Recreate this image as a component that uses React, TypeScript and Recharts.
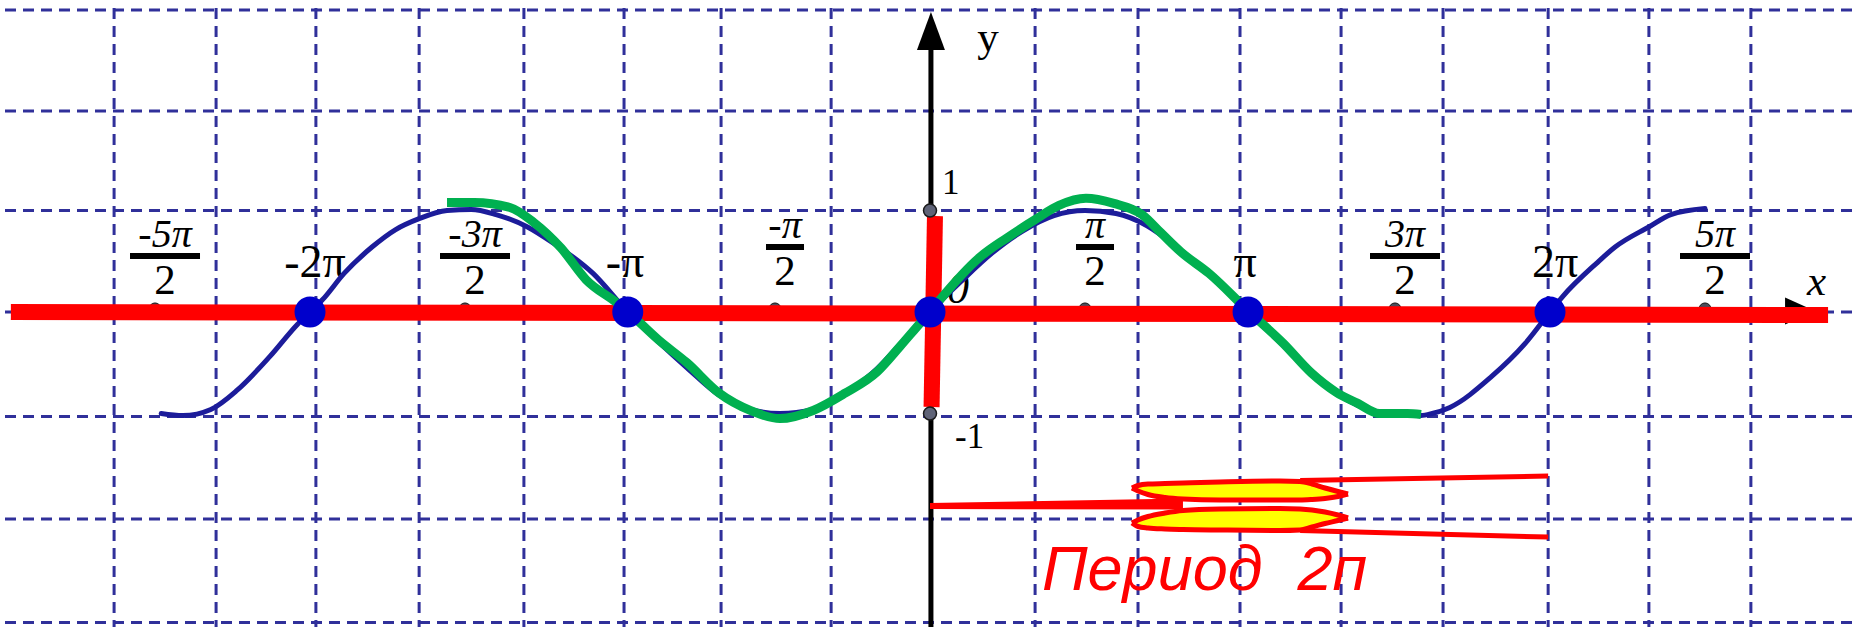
import React from 'react';
import { ComposedChart, XAxis, YAxis, CartesianGrid, Line, Area, Scatter } from 'recharts';

// x values are in multiples of π, y values in units
const gridT = [-2.974, -2.632, -2.303, -1.981, -1.648, -1.31, -0.987, -0.674, -0.319, 0.339, 0.671, 1.0, 1.326, 1.655, 1.994, 2.319, 2.648];
const gridV = [2.975, 1.98, 1.0, 0, -1.03, -2.04, -3.06];

const blueT = [-2.48, -2.41, -2.32, -2.235, -2.13, -2.04, -2.0, -1.96, -1.89, -1.8, -1.725, -1.648, -1.558, -1.48, -1.4, -1.3, -1.216, -1.087, -0.975, -0.874, -0.784, -0.68, -0.58, -0.484, -0.377, -0.274, -0.171, -0.097, 0, 0.1, 0.2, 0.3, 0.4, 0.5, 0.6, 0.7, 0.8, 0.9, 1.026, 1.14, 1.23, 1.31, 1.38, 1.45, 1.54, 1.584, 1.62, 1.677, 1.81, 1.92, 2.0, 2.04, 2.15, 2.21, 2.32, 2.39, 2.5];
const blueV = [-1.0, -1.02, -0.96, -0.77, -0.44, -0.12, 0, 0.12, 0.38, 0.64, 0.81, 0.92, 1.0, 1.01, 0.96, 0.84, 0.68, 0.38, 0, -0.3, -0.55, -0.82, -0.96, -1.0, -0.96, -0.8, -0.56, -0.32, 0, 0.3, 0.58, 0.8, 0.95, 1.0, 0.97, 0.85, 0.63, 0.37, 0, -0.33, -0.6, -0.8, -0.92, -0.99, -1.01, -1.02, -1.0, -0.94, -0.64, -0.31, 0, 0.15, 0.48, 0.64, 0.84, 0.96, 1.02];

const greenT = [-1.558, -1.47, -1.355, -1.277, -1.19, -1.11, -1.01, -0.974, -0.874, -0.784, -0.68, -0.58, -0.484, -0.377, -0.274, -0.171, -0.097, -0.032, 0, 0.032, 0.161, 0.248, 0.339, 0.416, 0.503, 0.593, 0.684, 0.745, 0.81, 0.9, 1.03, 1.14, 1.23, 1.31, 1.38, 1.45, 1.54, 1.584];
const greenV = [1.08, 1.08, 1.03, 0.88, 0.63, 0.32, 0.09, 0, -0.28, -0.5, -0.8, -0.97, -1.05, -0.97, -0.8, -0.59, -0.34, -0.11, 0, 0.12, 0.54, 0.73, 0.91, 1.05, 1.12, 1.07, 0.96, 0.78, 0.59, 0.38, 0, -0.31, -0.6, -0.79, -0.9, -1.0, -1.0, -1.01];

const zeroDotsT = [-2, -0.975, 0, 1.026, 2];
const unitDotsV = [1, -1];
const halfTicksT = [-2.5, -1.5, -0.5, 0.5, 1.5, 2.5];

const fracNumerators = ['-5π', '-3π', '-π', 'π', '3π', '5π'];
const fracDenominator = '2';
const piTicksT = [-2, -1, 1, 2];
const piTickLabels = ['-2π', '-π', 'π', '2π'];
const yTickLabels = ['1', '-1'];

const redAxisT = [-2.965, 2.897];
const redAxisV = [0, -0.03];
const redVertT = [0.016, 0.005];
const redVertV = [0.946, -0.936];
const yAxisT = [0.003, 0.003];
const yAxisV = [-3.2, 2.6];
const yArrowT = [0.003];
const yArrowV = [2.956];
const xArrowT = [2.855];
const xArrowV = [0.01];

// "period" ribbon
const stemT = [0, 0.816];
const stemLow = [-1.941, -1.946];
const stemHigh = [-1.882, -1.837];
const bandT = [0.6516, 0.671, 0.7032, 0.7581, 0.8161, 0.9355, 1.129, 1.1935, 1.2323, 1.2742, 1.3161, 1.3484];
const upperTop = [-1.734, -1.7094, -1.6946, -1.6897, -1.6847, -1.6749, -1.665, -1.67, -1.6946, -1.734, -1.7685, -1.7931];
const upperBottom = [-1.734, -1.7635, -1.798, -1.8276, -1.8424, -1.8522, -1.8522, -1.8522, -1.8473, -1.8374, -1.8177, -1.7931];
const lowerTop = [-2.0788, -2.0493, -2.0148, -1.9803, -1.9557, -1.9409, -1.936, -1.9409, -1.9507, -1.9704, -2.0, -2.0296];
const lowerBottom = [-2.0788, -2.1133, -2.1281, -2.1379, -2.1429, -2.1478, -2.1527, -2.1478, -2.1182, -2.0837, -2.0542, -2.0296];
const upperLineT = [1.194, 1.994];
const upperLineV = [-1.66, -1.616];
const lowerLineT = [1.194, 1.994];
const lowerLineV = [-2.153, -2.217];

const periodLabel = 'Период  2п';
const periodT = [0.361];
const periodV = [-2.739];
const axisNames = ['x', 'y', '0'];
const axisNameT = [2.829, 0.152, 0.055];
const axisNameV = [0.167, 2.571, 0.089];

const zip = (ts: number[], vs: number[]) => ts.map((t, i) => ({ t, v: vs[i] }));

const blueData = zip(blueT, blueV);
const greenData = zip(greenT, greenV);
const zeroDots = zeroDotsT.map((t) => ({ t, v: 0 }));
const unitDots = unitDotsV.map((v) => ({ t: 0, v }));
const tickBumps = halfTicksT.map((t) => ({ t, v: 0.03 }));
const fracData = halfTicksT.map((t, i) => ({ t, v: 0, num: fracNumerators[i] }));
const piData = piTicksT.map((t, i) => ({ t, v: 0, label: piTickLabels[i] }));
const yTickData = unitDotsV.map((v, i) => ({ t: 0, v, label: yTickLabels[i] }));
const stemData = stemT.map((t, i) => ({ t, r: [stemLow[i], stemHigh[i]] }));
const upperBand = bandT.map((t, i) => ({ t, r: [upperBottom[i], upperTop[i]] }));
const lowerBand = bandT.map((t, i) => ({ t, r: [lowerBottom[i], lowerTop[i]] }));
const periodData = periodT.map((t, i) => ({ t, v: periodV[i], label: periodLabel }));
const axisNameData = axisNames.map((label, i) => ({ t: axisNameT[i], v: axisNameV[i], label }));

const SERIF = "'Liberation Serif', 'Times New Roman', serif";
const SANS = "'Liberation Sans', Arial, sans-serif";
const GRID = '#30309a';
const RED = '#ff0000';

const FracShape = (p: any) => {
  const { cx, cy, payload } = p;
  const half = Math.abs(payload.t) === 0.5;
  const x = cx + 10;
  const lift = half ? 9 : 0;
  const w = half ? 38 : 70;
  return (
    <g>
      <text x={x} y={cy - 65 - lift} textAnchor="middle" fontFamily={SERIF} fontStyle="italic" fontSize={40} fill="#000">{payload.num}</text>
      <rect x={x - w / 2} y={cy - 59 - lift} width={w} height={6} fill="#000" />
      <text x={x} y={cy - 18 - lift} textAnchor="middle" fontFamily={SERIF} fontSize={43} fill="#000">{fracDenominator}</text>
    </g>
  );
};

const PiShape = (p: any) => (
  <text x={p.cx + 5} y={p.cy - 35} textAnchor="middle" fontFamily={SERIF} fontSize={46} fill="#000">{p.payload.label}</text>
);

const YTickShape = (p: any) => {
  const up = p.payload.v > 0;
  return (
    <text x={p.cx + (up ? 12 : 25)} y={p.cy + (up ? -17 : 34)} fontFamily={SERIF} fontSize={35} fill="#000">{p.payload.label}</text>
  );
};

const AxisNameShape = (p: any) => {
  const italic = p.payload.label !== 'y';
  return (
    <text x={p.cx} y={p.cy} fontFamily={SERIF} fontStyle={italic ? 'italic' : 'normal'} fontSize={p.payload.label === '0' ? 44 : 43} fill="#000">{p.payload.label}</text>
  );
};

const PeriodShape = (p: any) => (
  <text x={p.cx} y={p.cy} fontFamily={SANS} fontStyle="italic" fontSize={63} fill={RED} style={{ whiteSpace: 'pre' }}>{p.payload.label}</text>
);

const ZeroDotShape = (p: any) => <circle cx={p.cx} cy={p.cy} r={15.5} fill="#0000cc" />;
const UnitDotShape = (p: any) => <circle cx={p.cx} cy={p.cy} r={6.5} fill="#5f6377" stroke="#1a1a1a" strokeWidth={1.5} />;
const BumpShape = (p: any) => <circle cx={p.cx} cy={p.cy} r={6} fill="#4a4d5a" stroke="#111" strokeWidth={1} />;
const YArrowShape = (p: any) => (
  <polygon points={`${p.cx},${p.cy} ${p.cx - 14},${p.cy + 38} ${p.cx + 14},${p.cy + 38}`} fill="#000" />
);
const XArrowShape = (p: any) => (
  <polygon points={`${p.cx},${p.cy} ${p.cx - 30},${p.cy - 13.5} ${p.cx - 30},${p.cy + 13.5}`} fill="#000" />
);

export default function App() {
  return (
    <div style={{ position: 'absolute', left: 0, top: 0, width: 1853, height: 627, background: '#fff' }}>
      <ComposedChart width={1853} height={627} margin={{ top: 8, right: 0, bottom: 0, left: 5 }}>
        <XAxis type="number" dataKey="t" domain={[-2.9839, 2.9774]} allowDataOverflow hide />
        <YAxis type="number" dataKey="v" domain={[-3.1034, 2.9951]} allowDataOverflow hide />
        <CartesianGrid verticalValues={gridT} horizontalValues={gridV} stroke={GRID} strokeWidth={3} strokeDasharray="11 7" />
        <Line data={zip(yAxisT, yAxisV)} dataKey="v" type="linear" stroke="#000" strokeWidth={5} dot={false} activeDot={false} isAnimationActive={false} zIndex={410} />
        <Scatter data={zip(yArrowT, yArrowV)} dataKey="v" shape={YArrowShape} isAnimationActive={false} zIndex={411} />
        <Scatter data={zip(xArrowT, xArrowV)} dataKey="v" shape={XArrowShape} isAnimationActive={false} zIndex={412} />
        <Scatter data={tickBumps} dataKey="v" shape={BumpShape} isAnimationActive={false} zIndex={413} />
        <Line data={zip(redAxisT, redAxisV)} dataKey="v" type="linear" stroke={RED} strokeWidth={16} strokeLinecap="butt" dot={false} activeDot={false} isAnimationActive={false} zIndex={414} />
        <Scatter data={fracData} dataKey="v" shape={FracShape} isAnimationActive={false} zIndex={415} />
        <Scatter data={piData} dataKey="v" shape={PiShape} isAnimationActive={false} zIndex={416} />
        <Scatter data={yTickData} dataKey="v" shape={YTickShape} isAnimationActive={false} zIndex={417} />
        <Scatter data={axisNameData} dataKey="v" shape={AxisNameShape} isAnimationActive={false} zIndex={418} />
        <Line data={zip(redVertT, redVertV)} dataKey="v" type="linear" stroke={RED} strokeWidth={16} strokeLinecap="butt" dot={false} activeDot={false} isAnimationActive={false} zIndex={419} />
        <Line data={blueData} dataKey="v" type="monotone" stroke="#1c1c9a" strokeWidth={5} strokeLinecap="round" dot={false} activeDot={false} isAnimationActive={false} zIndex={420} />
        <Line data={greenData} dataKey="v" type="monotone" stroke="#00b050" strokeWidth={9} strokeLinecap="butt" dot={false} activeDot={false} isAnimationActive={false} zIndex={421} />
        <Scatter data={zeroDots} dataKey="v" shape={ZeroDotShape} isAnimationActive={false} zIndex={422} />
        <Scatter data={unitDots} dataKey="v" shape={UnitDotShape} isAnimationActive={false} zIndex={423} />
        <Area data={stemData} dataKey="r" type="linear" stroke="none" fill={RED} fillOpacity={1} dot={false} activeDot={false} isAnimationActive={false} zIndex={424} />
        <Area data={upperBand} dataKey="r" type="monotone" stroke={RED} strokeWidth={5} fill="#ffff00" fillOpacity={1} dot={false} activeDot={false} isAnimationActive={false} zIndex={425} />
        <Area data={lowerBand} dataKey="r" type="monotone" stroke={RED} strokeWidth={5} fill="#ffff00" fillOpacity={1} dot={false} activeDot={false} isAnimationActive={false} zIndex={426} />
        <Line data={zip(upperLineT, upperLineV)} dataKey="v" type="linear" stroke={RED} strokeWidth={5} dot={false} activeDot={false} isAnimationActive={false} zIndex={427} />
        <Line data={zip(lowerLineT, lowerLineV)} dataKey="v" type="linear" stroke={RED} strokeWidth={5} dot={false} activeDot={false} isAnimationActive={false} zIndex={428} />
        <Scatter data={periodData} dataKey="v" shape={PeriodShape} isAnimationActive={false} zIndex={429} />
      </ComposedChart>
    </div>
  );
}
